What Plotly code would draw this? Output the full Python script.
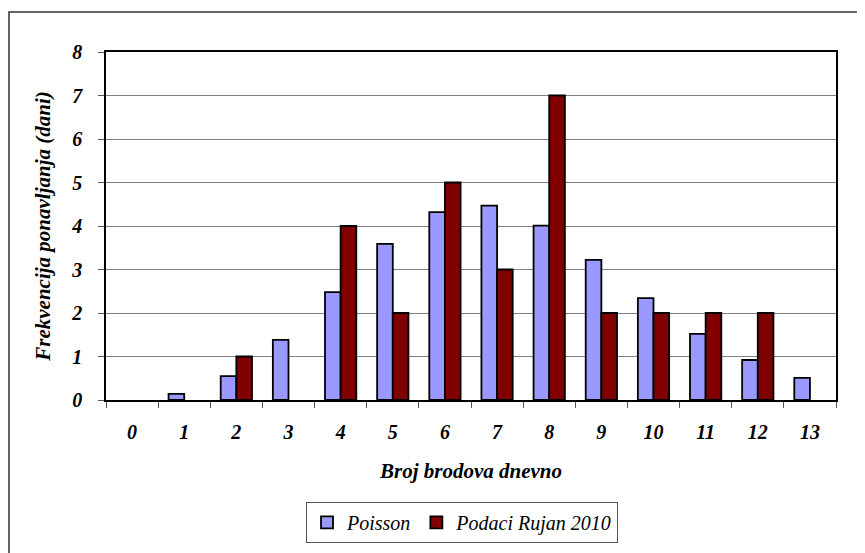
import plotly.graph_objects as go

categories = ["0", "1", "2", "3", "4", "5", "6", "7", "8", "9", "10", "11", "12", "13"]
poisson = [0.0, 0.14, 0.55, 1.38, 2.48, 3.59, 4.32, 4.47, 4.01, 3.22, 2.34, 1.52, 0.92, 0.51]
podaci = [0, 0, 1, 0, 4, 2, 5, 3, 7, 2, 2, 2, 2, 0]
y_ticks = [0, 1, 2, 3, 4, 5, 6, 7, 8]

FONT = "Liberation Serif"


def drawn(values):
    # zero-height bars are not drawn (no outline line at the baseline)
    return [v if v > 0 else None for v in values]


fig = go.Figure()
fig.add_trace(go.Bar(
    x=categories, y=drawn(poisson), name="Poisson",
    marker=dict(color="#9999ff", line=dict(color="black", width=1.8)),
))
fig.add_trace(go.Bar(
    x=categories, y=drawn(podaci), name="Podaci Rujan 2010",
    marker=dict(color="#800000", line=dict(color="black", width=1.8)),
))

fig.update_layout(
    width=857, height=545,
    margin=dict(l=98, r=29, t=44, b=153, autoexpand=False),
    paper_bgcolor="white", plot_bgcolor="white",
    barmode="group", bargap=0.4, bargroupgap=0,
    font=dict(family=FONT, color="black"),
    showlegend=True,
    legend=dict(
        orientation="h", x=0.274, y=-0.293, xanchor="left", yanchor="top",
        bordercolor="#555", borderwidth=1,
        font=dict(family=FONT, size=20, style="italic"),
        itemwidth=30, tracegroupgap=0,
    ),
    xaxis=dict(
        type="category", automargin=False,
        tickson="boundaries", ticks="outside", ticklen=6, tickcolor="#555",
        ticklabelstandoff=13,
        tickfont=dict(family=FONT, size=20, weight="bold", style="italic"),
        showline=True, linecolor="black", linewidth=1.5, mirror=True,
        showgrid=False,
        title=dict(text="Broj brodova dnevno",
                   font=dict(family=FONT, size=21, weight="bold", style="italic"),
                   standoff=22),
    ),
    yaxis=dict(
        range=[0, 8], tickvals=y_ticks, ticktext=[str(v) for v in y_ticks],
        automargin=False,
        ticks="outside", ticklen=6, tickcolor="#555",
        ticklabelstandoff=12,
        tickfont=dict(family=FONT, size=20, weight="bold", style="italic"),
        showline=True, linecolor="black", linewidth=1.5, mirror=True,
        showgrid=True, gridcolor="#808080", gridwidth=1,
        zeroline=False,
        title=dict(text="Frekvencija ponavljanja (dani)",
                   font=dict(family=FONT, size=21, weight="bold", style="italic"),
                   standoff=15),
    ),
    shapes=[
        dict(type="rect", xref="paper", yref="paper",
             x0=-0.1329, x1=1.2, y0=-0.6, y1=1.115,
             line=dict(color="#333", width=1.5), fillcolor="rgba(0,0,0,0)", layer="below"),
    ],
)

fig.write_html("out.html")
